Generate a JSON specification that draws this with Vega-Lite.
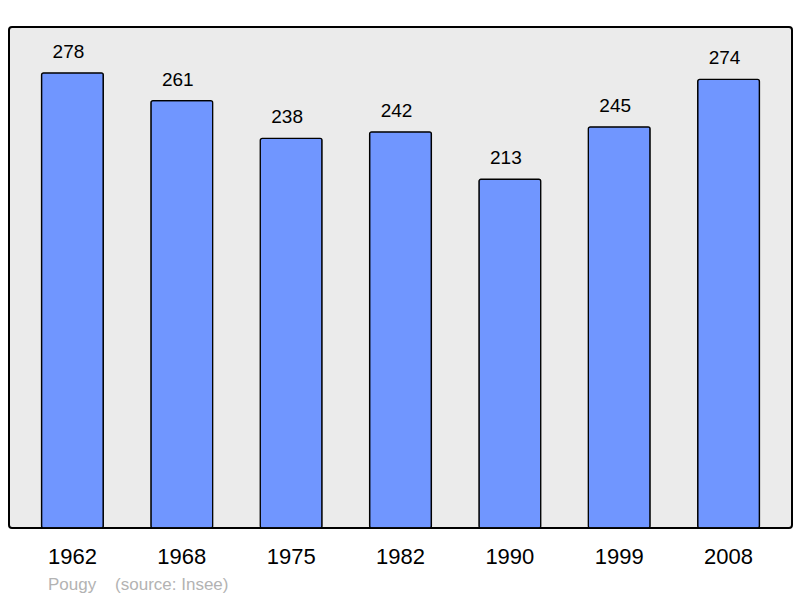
{
  "$schema": "https://vega.github.io/schema/vega-lite/v6.json",
  "width": 783,
  "height": 501,
  "autosize": "none",
  "padding": {"left": 9, "top": 27, "right": 8, "bottom": 70},
  "background": "#ffffff",
  "config": {
    "view": {"fill": "#ebebeb", "stroke": "#000000", "strokeWidth": 2, "cornerRadius": 3},
    "font": "Liberation Sans"
  },
  "title": {
    "text": "Pougy \u00a0\u00a0\u00a0(source: Insee)",
    "orient": "bottom",
    "anchor": "start",
    "frame": "group",
    "dx": 39,
    "offset": 10,
    "color": "#b3b3b3",
    "fontSize": 17,
    "fontWeight": "normal",
    "font": "Liberation Sans"
  },
  "data": {
    "values": [
      {"year": "1962", "pop": 278},
      {"year": "1968", "pop": 261},
      {"year": "1975", "pop": 238},
      {"year": "1982", "pop": 242},
      {"year": "1990", "pop": 213},
      {"year": "1999", "pop": 245},
      {"year": "2008", "pop": 274}
    ]
  },
  "encoding": {
    "x": {
      "field": "year",
      "type": "ordinal",
      "scale": {"paddingInner": 0.435, "paddingOuter": 0.2975},
      "axis": {
        "title": null,
        "domain": false,
        "ticks": false,
        "labelAngle": 0,
        "labelFontSize": 22,
        "labelColor": "#000000",
        "labelPadding": 18,
        "labelFont": "Liberation Sans"
      }
    },
    "y": {
      "field": "pop",
      "type": "quantitative",
      "scale": {"domain": [0, 306], "nice": false},
      "axis": null
    }
  },
  "layer": [
    {
      "mark": {"type": "bar", "fill": "#7096ff", "stroke": "#000000", "strokeWidth": 1.3, "cornerRadius": 2}
    },
    {
      "mark": {"type": "text", "baseline": "alphabetic", "dy": -15, "dx": -4, "fontSize": 19, "color": "#000000", "font": "Liberation Sans"},
      "encoding": {"text": {"field": "pop", "type": "quantitative"}}
    }
  ]
}
